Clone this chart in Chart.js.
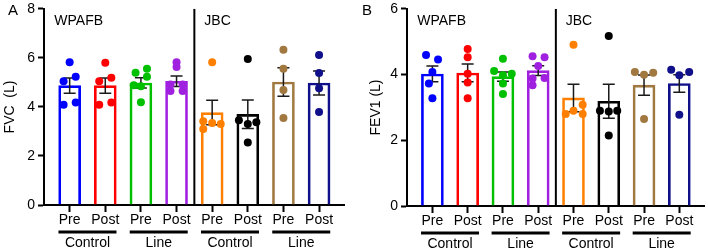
<!DOCTYPE html>
<html>
<head>
<meta charset="utf-8">
<script src="https://cdn.jsdelivr.net/npm/chart.js@4.4.1/dist/chart.umd.min.js"></script>
<style>
  html, body { margin: 0; padding: 0; background: #fff; }
  #wrap { position: relative; width: 708px; height: 251px; font-family: "Liberation Sans", Arial, sans-serif; }
  .panel { position: absolute; top: 0; width: 354px; height: 251px; }
  .letter { position: absolute; top: 2px; font-size: 15px; line-height: 15px; color: #000; }
</style>
</head>
<body>
<div id="wrap">
  <div class="panel" style="left:0"><canvas id="fvc"></canvas></div>
  <div class="panel" style="left:354px"><canvas id="fev1"></canvas></div>
  <div class="letter" style="left:8px">A</div>
  <div class="letter" style="left:362px">B</div>
</div>
<script>
const FONT = '"Liberation Sans", Arial, sans-serif';

const TICK_LABELS = ['Pre', 'Post', 'Pre', 'Post', 'Pre', 'Post', 'Pre', 'Post'];
const GROUP_LABELS = ['Control', 'Line', 'Control', 'Line'];
const SITE_LABELS = ['WPAFB', 'JBC'];
const COLORS = ['#0000ff', '#ff0000', '#00c000', '#a020e0', '#ff8000', '#000000', '#a07840', '#10108a'];

// FVC (L)
const FVC_MEAN = [4.87, 4.87, 4.98, 5.05, 3.77, 3.70, 5.02, 4.98];
const FVC_SEM = [0.31, 0.31, 0.21, 0.21, 0.50, 0.58, 0.58, 0.49];
const FVC_POINTS = [
  [5.83, 5.05, 5.23, 4.09, 4.18],
  [5.80, 5.05, 5.19, 4.09, 4.18],
  [5.56, 5.40, 5.23, 4.89, 4.85, 4.19],
  [5.83, 5.63, 4.92, 4.92, 4.65, 4.65],
  [5.83, 3.42, 3.35, 3.31, 3.10],
  [5.96, 3.46, 3.31, 3.38, 2.55],
  [6.34, 5.56, 4.69, 3.55],
  [6.12, 5.39, 4.76, 3.79]
];
// horizontal spread of the dots, in category units
const FVC_JITTER = [
  [0, -0.17, 0.17, -0.17, 0.17],
  [0, -0.17, 0.17, -0.17, 0.17],
  [0.17, -0.15, 0.17, -0.2, 0, 0],
  [0, 0, -0.17, 0.17, -0.17, 0.17],
  [0, -0.25, 0, 0.24, -0.25],
  [0, -0.25, 0, 0.24, 0],
  [0, 0, 0, 0],
  [0, 0, 0, 0]
];

// FEV1 (L)
const FEV1_MEAN = [4.02, 4.05, 3.94, 4.12, 3.29, 3.19, 3.68, 3.73];
const FEV1_SEM = [0.24, 0.27, 0.14, 0.15, 0.42, 0.52, 0.31, 0.27];
const FEV1_POINTS = [
  [4.60, 4.46, 4.08, 3.73, 3.28],
  [4.78, 4.53, 4.03, 3.76, 3.28],
  [4.48, 4.11, 4.03, 3.98, 3.73, 3.41],
  [4.56, 4.53, 4.26, 3.88, 3.90, 3.68],
  [4.91, 2.80, 2.90, 3.08, 2.80],
  [5.18, 2.90, 2.88, 2.90, 2.15],
  [4.08, 4.00, 4.06, 2.65],
  [4.15, 3.98, 4.08, 2.78]
];
const FEV1_JITTER = [
  [-0.18, 0.16, 0, -0.1, 0],
  [0, 0, 0, 0, 0],
  [0, -0.25, 0.25, 0, 0, 0],
  [-0.16, 0.18, 0, -0.16, 0.18, -0.16],
  [0, -0.22, 0, 0.26, 0.26],
  [0, -0.25, 0, 0.24, 0],
  [-0.26, 0, 0.26, 0],
  [-0.23, 0, 0.28, 0]
];

function overlay(mean, sem) {
  return {
    id: 'overlay',
    afterDatasetDraw(chart, args) {
      if (args.meta.type !== 'bar') return;
      const { ctx, scales: { x, y } } = chart;
      ctx.save();
      ctx.strokeStyle = '#1a1a1a';
      ctx.lineWidth = 1.5;
      mean.forEach((m, i) => {
        const px = x.getPixelForValue(i);
        const top = y.getPixelForValue(m + sem[i]);
        const bot = y.getPixelForValue(m - sem[i]);
        ctx.beginPath();
        ctx.moveTo(px, top); ctx.lineTo(px, bot);
        ctx.moveTo(px - 6, top); ctx.lineTo(px + 6, top);
        ctx.moveTo(px - 6, bot); ctx.lineTo(px + 6, bot);
        ctx.stroke();
      });
      ctx.restore();
    },
    afterDraw(chart) {
      const { ctx, chartArea, scales: { x } } = chart;
      ctx.save();
      // site divider
      const dx = x.getPixelForValue(3.5);
      ctx.strokeStyle = '#000';
      ctx.lineWidth = 2;
      ctx.beginPath();
      ctx.moveTo(dx, chartArea.top);
      ctx.lineTo(dx, chartArea.bottom);
      ctx.stroke();

      ctx.fillStyle = '#000';
      ctx.font = '14px ' + FONT;
      ctx.textBaseline = 'middle';
      ctx.textAlign = 'left';
      ctx.fillText(SITE_LABELS[0], x.getPixelForValue(-0.43), chartArea.top + 12);
      ctx.fillText(SITE_LABELS[1], x.getPixelForValue(3.78), chartArea.top + 12);

      // Control / Line groups under the Pre/Post pairs
      ctx.textAlign = 'center';
      ctx.lineWidth = 3;
      GROUP_LABELS.forEach((g, k) => {
        const mid = (x.getPixelForValue(2 * k) + x.getPixelForValue(2 * k + 1)) / 2;
        ctx.beginPath();
        ctx.moveTo(mid - 29, chartArea.bottom + 27);
        ctx.lineTo(mid + 29, chartArea.bottom + 27);
        ctx.stroke();
        ctx.fillText(g, mid, chartArea.bottom + 38);
      });
      ctx.restore();
    }
  };
}

function makeChart(id, o) {
  const font = { family: FONT, size: 14 };
  const dots = o.points.flatMap((vals, i) => vals.map((v, j) => ({ x: i + o.jitter[i][j], y: v })));
  const dotColors = o.points.flatMap((vals, i) => vals.map(() => COLORS[i]));

  return new Chart(document.getElementById(id), {
    type: 'bar',
    data: {
      datasets: [
        {
          type: 'scatter',
          data: dots,
          pointRadius: 4,
          pointBackgroundColor: dotColors,
          pointBorderWidth: 0,
          order: 1
        },
        {
          type: 'bar',
          data: o.mean.map((m, i) => ({ x: i, y: m })),
          backgroundColor: 'rgba(255,255,255,0)',
          borderColor: COLORS,
          borderWidth: 2,
          barThickness: 22,
          order: 2
        }
      ]
    },
    options: {
      responsive: true,
      maintainAspectRatio: false,
      animation: false,
      layout: { padding: { top: 6, right: o.padRight, left: 0, bottom: 0 } },
      plugins: { legend: { display: false }, tooltip: { enabled: false } },
      scales: {
        x: {
          type: 'linear',
          min: -0.72,
          max: 7.7,
          offset: false,
          afterBuildTicks: s => { s.ticks = TICK_LABELS.map((t, i) => ({ value: i })); },
          ticks: { callback: (v, i) => TICK_LABELS[i], font, color: '#000', padding: 0, maxRotation: 0, autoSkip: false },
          grid: { offset: false, drawOnChartArea: false, drawTicks: true, tickLength: 7, tickColor: '#000', tickWidth: 2 },
          border: { color: '#000', width: 2 },
          afterFit: s => { s.height = o.axisBottom; }
        },
        y: {
          min: 0,
          max: o.yMax,
          ticks: { stepSize: 2, font: { family: FONT, size: 14, lineHeight: 0.85 }, color: '#000', padding: 3 },
          grid: { drawOnChartArea: false, drawTicks: true, tickLength: 6, tickColor: '#000', tickWidth: 2 },
          border: { color: '#000', width: 2 },
          title: { display: true, text: o.title, font, color: '#000', padding: { top: o.titlePad, bottom: 0 } },
          afterFit: s => { s.width = o.axisLeft; }
        }
      }
    },
    plugins: [overlay(o.mean, o.sem)]
  });
}

makeChart('fvc', {
  mean: FVC_MEAN, sem: FVC_SEM, points: FVC_POINTS, jitter: FVC_JITTER,
  yMax: 8, title: 'FVC  (L)', titlePad: 2, axisLeft: 44, axisBottom: 46, padRight: 10
});
makeChart('fev1', {
  mean: FEV1_MEAN, sem: FEV1_SEM, points: FEV1_POINTS, jitter: FEV1_JITTER,
  yMax: 6, title: 'FEV1 (L)', titlePad: 13.6, axisLeft: 53, axisBottom: 45, padRight: 1
});
</script>
</body>
</html>
